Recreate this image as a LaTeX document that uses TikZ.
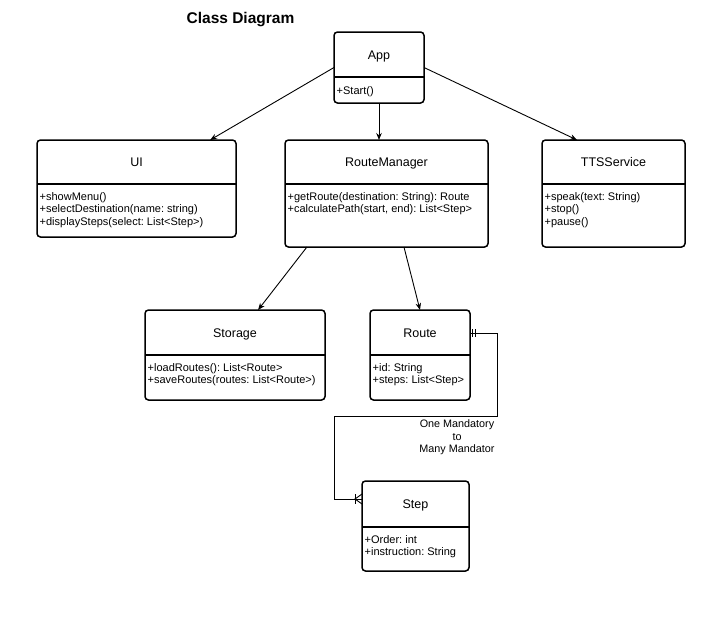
\documentclass[tikz,border=0pt]{standalone}
\usepackage{fontspec}
\setmainfont{Liberation Sans}
\frenchspacing
\usetikzlibrary{arrows.meta,calc}

% one UML class: name, left, top, right, bottom, divider y, title, members
\newcommand{\umlclass}[8]{%
  \node[clsframe, minimum width={#4-#2}, minimum height={#5-#3}] (#1) at ({(#2+#4)/2},{(#3+#5)/2}) {};
  \node[clstitle] (#1-t) at ({(#2+#4)/2},{(#3+#6)/2+4.8}) {#7};
  \draw[divider] (#1.west |- 0,#6) -- (#1.east |- 0,#6);
  \node[members] (#1-m) at ({#2+2.5},{#6+8.3}) {#8};
}

\begin{document}
\begin{tikzpicture}[x=1pt, y=-1pt,
  clsframe/.style={draw=black, line width=1.5pt, rounded corners=3.5pt, fill=white,
                   rectangle, inner sep=0pt, outer sep=0pt},
  divider/.style={draw=black, line width=1.5pt},
  clstitle/.style={font=\fontsize{12.5}{15}\selectfont, inner sep=0pt, anchor=base},
  members/.style={font=\fontsize{11}{12.4}\selectfont, align=left, inner sep=0pt,
                  anchor=north west, execute at begin node=\strut},
  assoc/.style={draw=black, line width=0.9pt, -{Stealth[length=7pt,width=5.5pt]}},
  conn/.style={draw=black, line width=0.9pt},
  heading/.style={font=\fontsize{15.5}{18}\selectfont\bfseries, inner sep=0pt, anchor=base},
  note/.style={font=\fontsize{10.8}{12.5}\selectfont, align=center, inner sep=0pt}
]
\fill[white] (0,0) rectangle (728,624);
\useasboundingbox (0,0) rectangle (728,624);

\node[heading] (heading) at (240.5,23.8) {Class Diagram};

\umlclass{app}{334}{32}{424}{103}{77}{App}{+Start()}
\umlclass{ui}{37}{140}{236}{237}{184}{UI}{+showMenu()\\+selectDestination(name: string)\\+displaySteps(select: List<Step>)}
\umlclass{rm}{285}{140}{488}{247}{184}{RouteManager}{+getRoute(destination: String): Route\\+calculatePath(start, end): List<Step>}
\umlclass{tts}{542}{140}{685}{247}{184}{TTSService}{+speak(text: String)\\+stop()\\+pause()}
\umlclass{storage}{145}{310}{325}{400}{355}{Storage}{+loadRoutes(): List<Route>\\+saveRoutes(routes: List<Route>)}
\umlclass{route}{370}{310}{470}{400}{355}{Route}{+id: String\\+steps: List<Step>}
\umlclass{step}{362}{481}{469}{571}{527}{Step}{+Order: int\\+instruction: String}

% dependencies
\draw[assoc] (app.west) -- ($(ui.north west)!0.87!(ui.north east)$);
\draw[assoc] (app.south) -- (app.south |- rm.north);
\draw[assoc] (app.east) -- ($(tts.north west)!0.245!(tts.north east)$);
\draw[assoc] ($(rm.south west)!0.108!(rm.south east)$) -- ($(storage.north west)!0.628!(storage.north east)$);
\draw[assoc] ($(rm.south west)!0.586!(rm.south east)$) -- (route.north);

% one-to-many relation Route -> Step
\coordinate (bendA) at (497,416);
\coordinate (bendB) at (334,416);
\coordinate (routeOut) at (route.east |- 0,333);
\coordinate (stepIn) at ($(step.north west)+(0,18)$);
\draw[conn] (routeOut) -| (bendA) -- (bendB) |- (stepIn);
% mandatory one
\draw[conn] ($(routeOut)+(2.7,-4)$) -- ++(0,8);
\draw[conn] ($(routeOut)+(5.7,-4)$) -- ++(0,8);
% one or many
\draw[conn] ($(stepIn)+(-7,-5)$) -- ++(0,10);
\draw[conn] ($(stepIn)+(0,-5)$) -- ($(stepIn)+(-7,0)$) -- ($(stepIn)+(0,5)$);

\node[note] (relnote) at (457,437.5) {One Mandatory\\to\\Many Mandator};
\end{tikzpicture}
\end{document}
